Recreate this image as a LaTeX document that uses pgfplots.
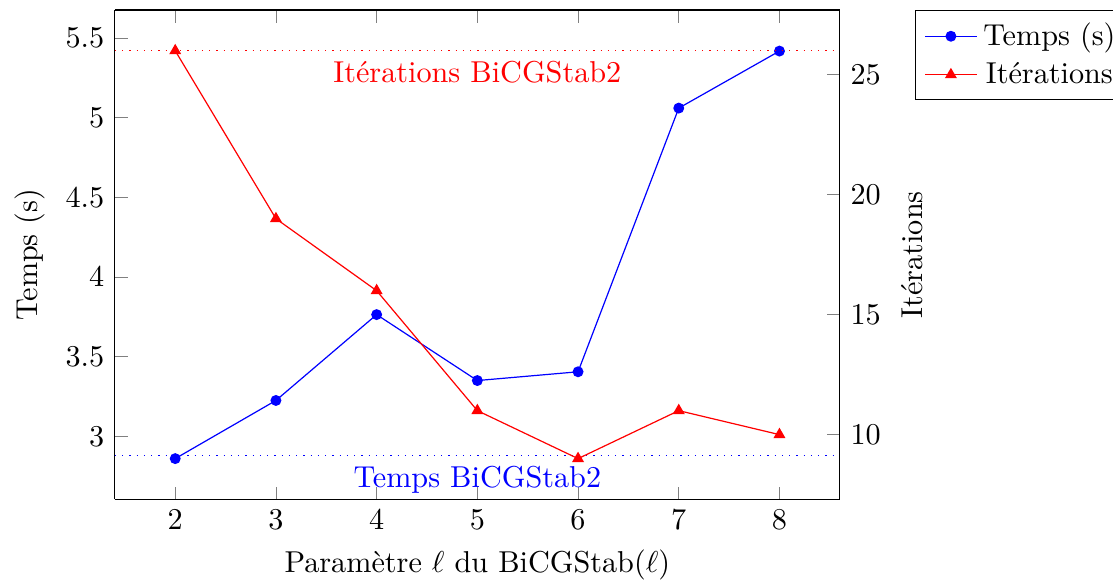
\documentclass[border=0pt]{standalone}
\usepackage{pgfplots}
\pgfplotsset{compat=1.18}
\begin{document}
\begin{tikzpicture}
  \begin{axis}[
    scale only axis,
    width=240pt, height=162pt,
    xmin=1.4, xmax=8.6,
    ymin=2.604, ymax=5.676,
    axis y line*=left,
    xtick={2,3,4,5,6,7,8},
    ytick={3,3.5,4,4.5,5,5.5},
    xlabel={Paramètre $\ell$ du BiCGStab($\ell$)},
    ylabel={Temps (s)},
    mark size=1.6pt,
  ]
    \addplot[blue, mark=*] coordinates {
      (2, 2.86) (3, 3.225) (4, 3.764) (5, 3.35) (6, 3.405) (7, 5.06) (8, 5.418)
    };
    \addplot[blue, dotted, forget plot] coordinates {(1.4, 2.88) (8.6, 2.88)};
    \node[blue, below] at (axis cs:5, 2.88) {Temps BiCGStab2};
    \coordinate (sw) at (rel axis cs:0,0);
    \coordinate (ne) at (rel axis cs:1,1);
  \end{axis}
  \begin{axis}[
    scale only axis,
    width=240pt, height=162pt,
    xmin=1.4, xmax=8.6,
    ymin=7.3, ymax=27.7,
    axis y line*=right,
    axis x line=none,
    ytick={10,15,20,25},
    ylabel={Itérations},
    mark size=1.6pt,
    legend style={at={(1.1034,1)}, anchor=north west, draw=black},
  ]
    \addlegendimage{blue, mark=*}
    \addlegendentry{Temps (s)}
    \addplot[red, mark=triangle*, mark size=1.9pt] coordinates {
      (2, 26) (3, 19) (4, 16) (5, 11) (6, 9) (7, 11) (8, 10)
    };
    \addlegendentry{Itérations}
    \addplot[red, dotted, forget plot] coordinates {(1.4, 26) (8.6, 26)};
    \node[red, below] at (axis cs:5, 26) {Itérations BiCGStab2};
  \end{axis}
  \pgfresetboundingbox
  \path ([xshift=-38pt, yshift=-27.5pt]sw) rectangle ([xshift=90.4pt, yshift=3.3pt]ne);
\end{tikzpicture}
\end{document}
